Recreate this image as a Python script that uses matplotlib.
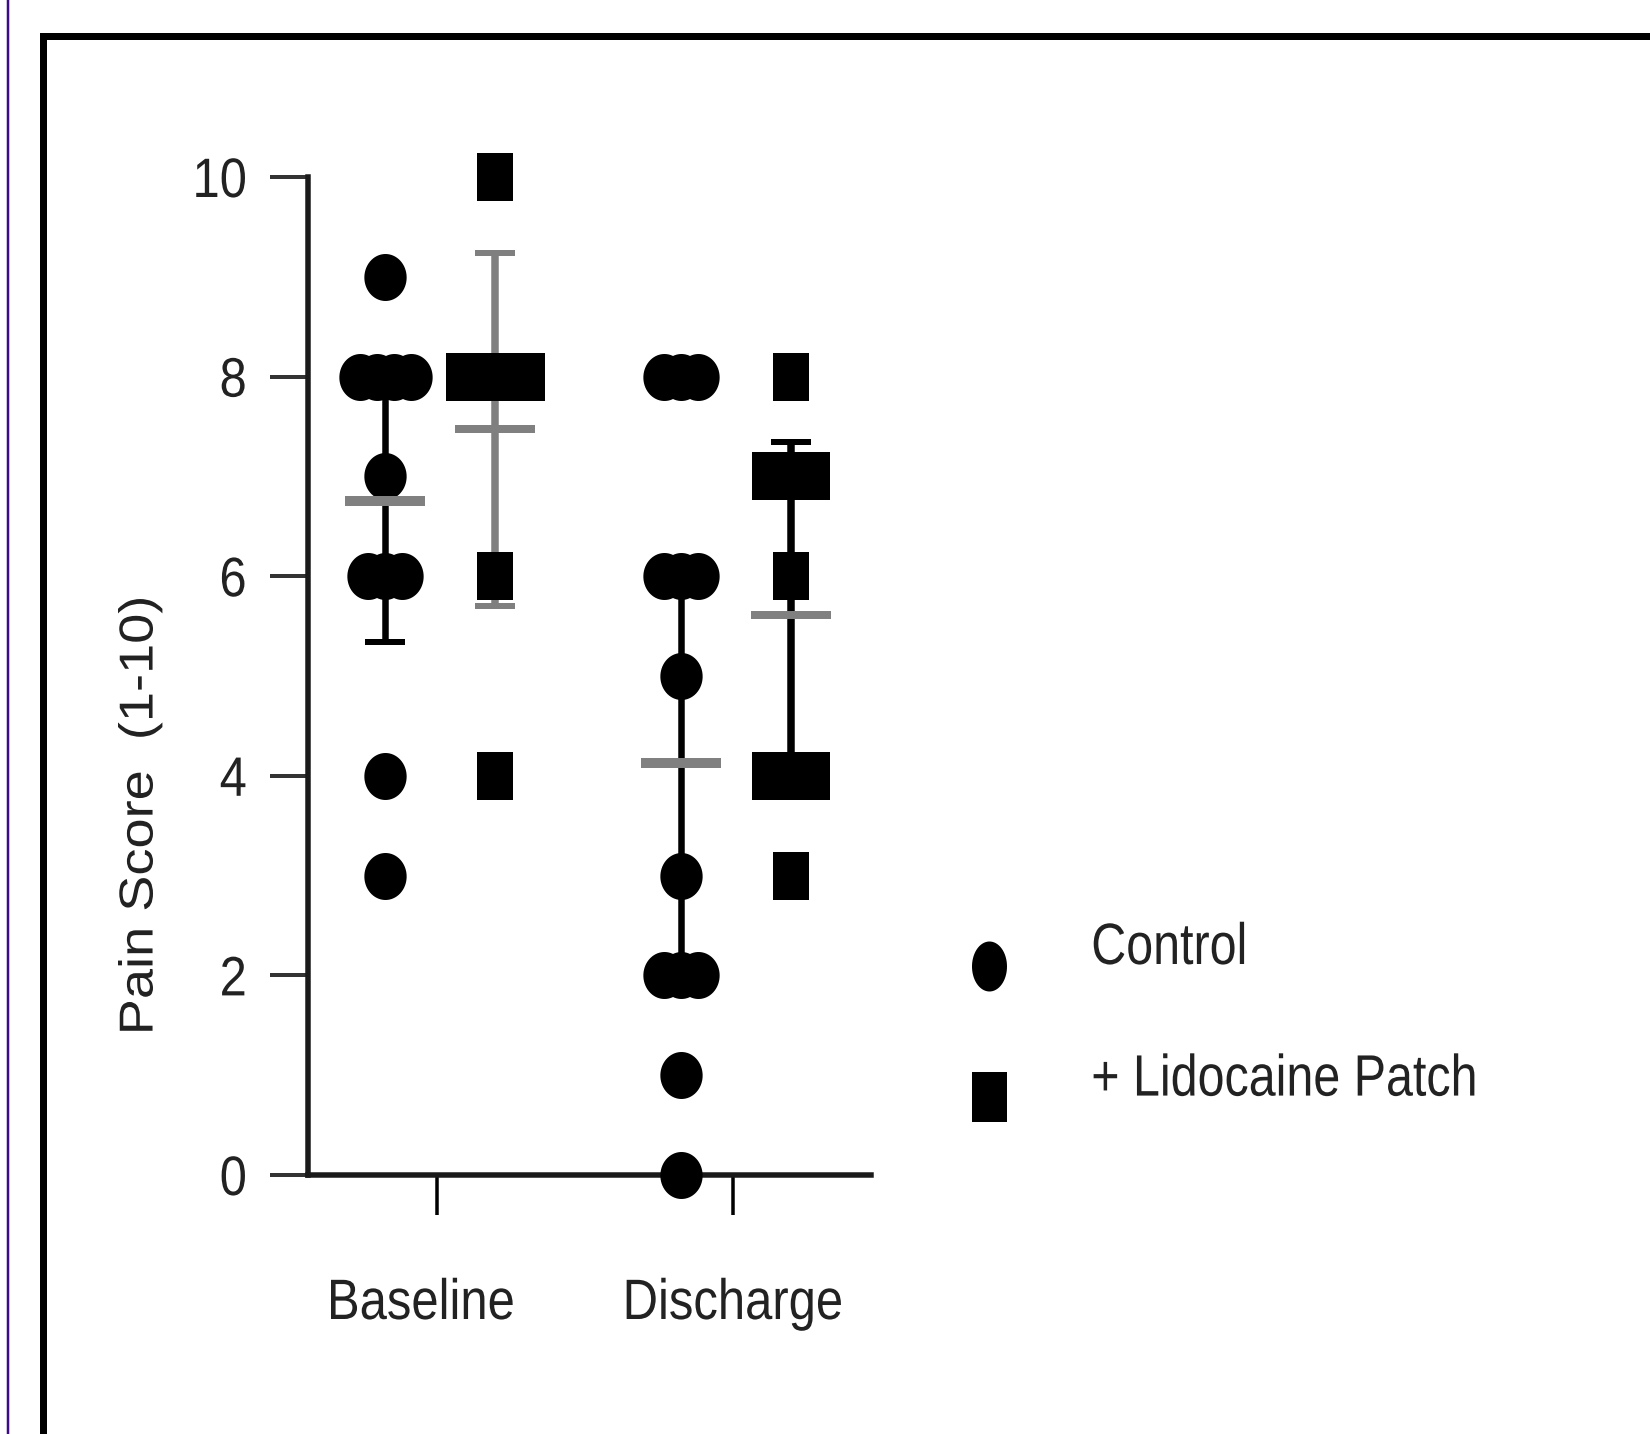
#!/usr/bin/env python3

import matplotlib

matplotlib.use("Agg")
import matplotlib.pyplot as plt
import numpy as np
from matplotlib import font_manager
from matplotlib.legend_handler import HandlerLine2D
from matplotlib.lines import Line2D
from matplotlib.path import Path
from matplotlib.patheffects import AbstractPathEffect
from matplotlib.transforms import Affine2D

OUT_PATH = "out.png"

GROUPS = ["Baseline", "Discharge"]
SERIES = ["Control", "+ Lidocaine Patch"]

# individual pain scores
CONTROL_BASELINE = [9, 8, 8, 8, 8, 7, 6, 6, 6, 4, 3]
LIDOCAINE_BASELINE = [10, 8, 8, 8, 8, 6, 4]
CONTROL_DISCHARGE = [8, 8, 8, 6, 6, 6, 5, 3, 2, 2, 2, 1, 0]
LIDOCAINE_DISCHARGE = [8, 7, 7, 7, 6, 4, 4, 4, 3]

# mean and SD as drawn
CONTROL_MEAN = [6.75, 4.13]
CONTROL_SD = [1.41, 2.0]
LIDOCAINE_MEAN = [7.47, 5.61]
LIDOCAINE_SD = [1.77, 1.73]

Y_TICKS = [0, 2, 4, 6, 8, 10]
Y_LABEL = "Pain Score  (1-10)"

DPI = 100
FIG_W, FIG_H = 1650, 1434
PX_PER_UNIT = 296.0  # x data unit in pixels
PT = 72.0 / DPI
TEXT_COLOR = "#222222"

available = {f.name for f in font_manager.fontManager.ttflist}
FONT = "Liberation Sans" if "Liberation Sans" in available else "DejaVu Sans"


class Condense(AbstractPathEffect):
    """Squeeze rendered text horizontally (the source image is narrower)."""

    def __init__(self, sx, anchor="center", dx=0.0):
        super().__init__()
        self.sx = sx
        self.anchor = anchor
        self.dx = dx

    def draw_path(self, renderer, gc, tpath, affine, rgbFace=None):
        verts = affine.transform(tpath.vertices)
        if len(verts) == 0:
            renderer.draw_path(gc, tpath, affine, rgbFace)
            return
        x0, x1 = verts[:, 0].min(), verts[:, 0].max()
        ax_ = {"left": x0, "right": x1}.get(self.anchor, 0.5 * (x0 + x1))
        squeeze = (Affine2D().translate(-ax_, 0).scale(self.sx, 1)
                   .translate(ax_ + renderer.points_to_pixels(self.dx), 0))
        renderer.draw_path(gc, tpath, affine + squeeze, rgbFace)


def ellipse_marker(ratio):
    t = np.linspace(0, 2 * np.pi, 64)
    verts = np.column_stack([ratio * 0.5 * np.cos(t), 0.5 * np.sin(t)])
    return Path(verts, closed=True)


def rect_marker(ratio):
    w = ratio * 0.5
    verts = [(-w, -0.5), (w, -0.5), (w, 0.5), (-w, 0.5), (-w, -0.5)]
    return Path(verts, closed=True)


CIRCLE = ellipse_marker(0.9)
SQUARE = rect_marker(0.77)


def spread(values, center, step_px):
    values = np.asarray(values, dtype=float)
    xs = np.zeros_like(values)
    for v in np.unique(values):
        idx = np.where(values == v)[0]
        n = len(idx)
        xs[idx] = center + (np.arange(n) - (n - 1) / 2) * step_px / PX_PER_UNIT
    return xs, values


class ShiftedHandler(HandlerLine2D):
    def __init__(self, shift, **kw):
        super().__init__(**kw)
        self.shift = shift

    def create_artists(self, legend, orig_handle, xdescent, ydescent, width, height, fontsize, trans):
        artists = super().create_artists(legend, orig_handle, xdescent, ydescent, width, height, fontsize, trans)
        for a in artists:
            a.set_ydata(np.asarray(a.get_ydata(), dtype=float) - self.shift)
        return artists


def main():
    fig = plt.figure(figsize=(FIG_W / DPI, FIG_H / DPI), dpi=DPI)
    fig.patch.set_facecolor("white")

    # outer decorations (frame + thin purple edge)
    fig.add_artist(Line2D([7.5 / FIG_W] * 2, [0, 1], transform=fig.transFigure,
                          color="#3d0a8a", lw=2.5 * PT))
    fig.add_artist(Line2D([43 / FIG_W, 43 / FIG_W, 1.0], [0, 1 - 35.5 / FIG_H, 1 - 35.5 / FIG_H],
                          transform=fig.transFigure, color="black", lw=7 * PT,
                          solid_joinstyle="miter"))

    ax = fig.add_axes([308 / FIG_W, (FIG_H - 1175) / FIG_H, 563 / FIG_W, 998 / FIG_H])
    ax.set_xlim(-0.436, 1.466)
    ax.set_ylim(0, 10)

    positions = np.arange(len(GROUPS))
    ctrl_off = -52 / PX_PER_UNIT
    lido_off = 58 / PX_PER_UNIT
    mean_half = 40 / PX_PER_UNIT

    control_sets = [CONTROL_BASELINE, CONTROL_DISCHARGE]
    lido_sets = [LIDOCAINE_BASELINE, LIDOCAINE_DISCHARGE]
    lido_bar_colors = ["#7f7f7f", "black"]

    for i, pos in enumerate(positions):
        cx = pos + ctrl_off
        lx = pos + lido_off

        # error bars (SD)
        ax.errorbar([cx], [CONTROL_MEAN[i]], yerr=[CONTROL_SD[i]], fmt="none",
                    ecolor="black", elinewidth=6.5 * PT, capsize=20 * PT,
                    capthick=6 * PT, zorder=2)
        eb = ax.errorbar([lx], [LIDOCAINE_MEAN[i]], yerr=[LIDOCAINE_SD[i]], fmt="none",
                         ecolor=lido_bar_colors[i], elinewidth=7.5 * PT, capsize=20 * PT,
                         capthick=6 * PT, zorder=2)
        for cap in eb[1]:
            cap.set_color("black")

        xs, ys = spread(control_sets[i], cx, 17)
        ax.plot(xs, ys, linestyle="none", marker=CIRCLE, markersize=47 * PT,
                color="black", markeredgewidth=0, zorder=3, clip_on=False)
        xs, ys = spread(lido_sets[i], lx, 21)
        ax.plot(xs, ys, linestyle="none", marker=SQUARE, markersize=48 * PT,
                color="black", markeredgewidth=0, zorder=3, clip_on=False)

        # mean lines
        ax.hlines(CONTROL_MEAN[i], cx - mean_half, cx + mean_half, color="#808080",
                  lw=10 * PT, zorder=4)
        ax.hlines(LIDOCAINE_MEAN[i], lx - mean_half, lx + mean_half, color="#808080",
                  lw=8 * PT, zorder=4)

    # axes styling
    for side in ["top", "right"]:
        ax.spines[side].set_visible(False)
    for side in ["left", "bottom"]:
        ax.spines[side].set_linewidth(5.5 * PT)
        ax.spines[side].set_color("#1a1a1a")

    ax.set_yticks(Y_TICKS)
    ax.set_yticklabels([str(t) for t in Y_TICKS], family=FONT, fontsize=40, color=TEXT_COLOR)
    ax.tick_params(axis="y", direction="out", length=38 * PT, width=4 * PT,
                   color="#333333", pad=23 * PT)
    for lab in ax.get_yticklabels():
        lab.set_path_effects([Condense(0.88, "right")])

    ax.set_xticks(positions)
    ax.set_xticklabels(GROUPS, family=FONT, fontsize=41, color=TEXT_COLOR)
    ax.tick_params(axis="x", direction="out", length=40 * PT, width=3.5 * PT,
                   color="black", pad=62 * PT)
    # the "Baseline" label sits a little left of its tick in the source
    label_shift = [-16 * PT, 0.0]
    for lab, dx in zip(ax.get_xticklabels(), label_shift):
        lab.set_path_effects([Condense(0.86, "center", dx)])

    ax.set_ylabel(Y_LABEL, family=FONT, fontsize=39, color=TEXT_COLOR, va="center")
    ax.yaxis.set_label_coords(-0.298, 0.36)
    ax.yaxis.label.set_path_effects([Condense(0.88, "center")])

    handles = [
        Line2D([0], [0], linestyle="none", marker=ellipse_marker(0.7), markersize=50 * PT,
               color="black", markeredgewidth=0),
        Line2D([0], [0], linestyle="none", marker=rect_marker(0.7), markersize=50 * PT,
               color="black", markeredgewidth=0),
    ]
    shift = 22 * PT
    leg = fig.legend(handles, SERIES, loc="upper left",
                     bbox_to_anchor=(960 / FIG_W, 1 - 922 / FIG_H),
                     frameon=False, prop={"family": FONT, "size": 42},
                     labelcolor=TEXT_COLOR, handlelength=1.0, handletextpad=1.25,
                     labelspacing=1.33, borderpad=0, borderaxespad=0, numpoints=1,
                     handler_map={h: ShiftedHandler(shift) for h in handles})
    for txt in leg.get_texts():
        txt.set_path_effects([Condense(0.83, "left")])

    fig.savefig(OUT_PATH, dpi=DPI)
    plt.close(fig)
    return 0


if __name__ == "__main__":
    raise SystemExit(main())
